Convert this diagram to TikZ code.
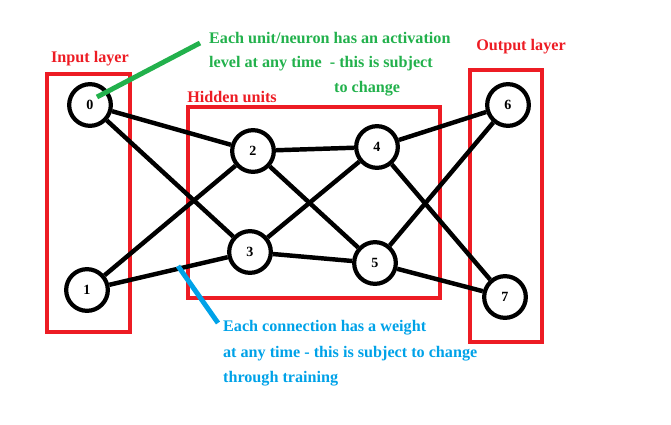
\documentclass[tikz,border=0pt]{standalone}
\usepackage{fontspec}
\setmainfont{Liberation Serif}
\usetikzlibrary{arrows}
\definecolor{paintred}{RGB}{237,28,36}
\definecolor{paintgreen}{RGB}{34,177,76}
\definecolor{paintblue}{RGB}{0,162,232}

\begin{document}
\begin{tikzpicture}[x=0.03cm,y=-0.03cm]
        \useasboundingbox (0,0) rectangle (671,425);

        % layer boxes
        \begin{scope}[every path/.style={draw=paintred,line width=4.2pt}]
            \draw (47,74) rectangle (130,332);
            \draw (188,107) rectangle (440,298);
            \draw (470,70) rectangle (542,342);
        \end{scope}

        \begin{scope}[every node/.style={text=paintred,font=\bfseries\fontsize{13.8}{16}\selectfont}]
            \node (inlabel) at (90,59) {Input layer};
            \node (hidlabel) at (232,97) {Hidden units};
            \node (outlabel) at (521,47) {Output layer};
        \end{scope}

        \begin{scope}[every node/.style={circle,line width=3.6pt,draw,fill=white,
                      minimum size=1.25cm,inner sep=0pt,font=\bfseries\fontsize{12}{14}\selectfont}]
            \node (0) at (90,105) {0};
            \node (1) at (87,290) {1};
            \node (2) at (253,151) {2};
            \node (3) at (250,252) {3};
            \node (4) at (377,147) {4};
            \node (5) at (375,263) {5};
            \node (6) at (508,105) {6};
            \node (7) at (505,297) {7};
        \end{scope}

        \begin{scope}[every edge/.style={draw=black,line width=3.8pt}]
            \path [-] (0) edge (2);
            \path [-] (0) edge (3);
            \path [-] (1) edge (2);
            \path [-] (1) edge (3);
            \path [-] (2) edge (4);
            \path [-] (2) edge (5);
            \path [-] (3) edge (4);
            \path [-] (3) edge (5);
            \path [-] (4) edge (6);
            \path [-] (4) edge (7);
            \path [-] (5) edge (6);
            \path [-] (5) edge (7);
        \end{scope}

        % notes
        \coordinate (actpoint) at (97,97);
        \coordinate (acttip) at (200,43);
        \coordinate (wpoint) at (178,266);
        \coordinate (wtip) at (218,323);
        \draw [paintgreen,line width=4.2pt] (actpoint) -- (acttip);
        \draw [paintblue,line width=4.2pt] (wpoint) -- (wtip);

        \begin{scope}[every node/.style={anchor=west,font=\bfseries\fontsize{13.8}{16}\selectfont}]
            \node [text=paintgreen] (act1) at (205,38) {Each unit/neuron has an activation};
            \node [text=paintgreen] (act2) at (205,64) {level at any time\ \ - this is subject};
            \node [text=paintgreen] (act3) at (330,89) {to change};
            \node [text=paintblue] (w1) at (219,328) {Each connection has a weight};
            \node [text=paintblue] (w2) at (219,354) {at any time - this is subject to change};
            \node [text=paintblue] (w3) at (219,379) {through training};
        \end{scope}
    \end{tikzpicture}
\end{document}
